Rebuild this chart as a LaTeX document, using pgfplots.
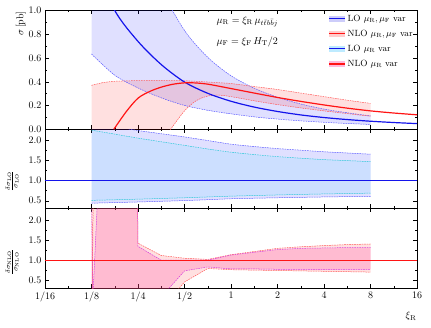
\documentclass[border=0pt]{standalone}
\usepackage{pgfplots}
\pgfplotsset{compat=1.18}
\usepackage{pgfplotstable}
\usepgfplotslibrary{fillbetween}

\definecolor{loline}{RGB}{20,20,235}
\definecolor{loedge}{RGB}{90,90,255}
\definecolor{nloline}{RGB}{255,20,20}
\definecolor{nloedge}{RGB}{255,90,90}
\definecolor{muredge}{RGB}{40,200,215}
\definecolor{murfill}{RGB}{110,215,255}
\definecolor{nmuredge}{RGB}{215,60,220}
\definecolor{nmurfill}{RGB}{255,90,170}
\definecolor{lopatch}{RGB}{205,205,250}
\definecolor{nlopatch}{RGB}{255,205,205}
\definecolor{murpatch}{RGB}{190,235,255}
\definecolor{nmurpatch}{RGB}{255,185,220}

% x coordinate is log2(xi_R)
\pgfplotstableread{
L c
-3 1.44
-2.5 1.00
-2 0.74
-1.5 0.545
-1 0.398
-0.5 0.303
0 0.236
0.5 0.187
1 0.150
1.5 0.121
2 0.099
2.5 0.082
3 0.068
3.5 0.057
4 0.048
}\locen

\pgfplotstableread{
L up lo
-3 3.53 0.634
-2.5 2.35 0.455
-2 1.665 0.348
-1.5 1.183 0.265
-1 0.832 0.201
-0.5 0.606 0.160
0 0.451 0.130
0.5 0.346 0.105
1 0.270 0.086
1.5 0.213 0.071
2 0.170 0.059
2.5 0.139 0.049
3 0.113 0.041
}\loband

\pgfplotstableread{
L c
-2.52 0.0
-2.25 0.15
-2 0.262
-1.75 0.318
-1.5 0.355
-1.25 0.379
-1 0.391
-0.75 0.39
-0.5 0.38
-0.25 0.362
0 0.343
0.5 0.305
1 0.268
1.5 0.235
2 0.205
2.5 0.178
3 0.155
3.5 0.137
4 0.122
}\nlocen

\pgfplotstableread{
L up lo
-3 0.37 -0.5
-2.75 0.393 -0.45
-2.5 0.404 -0.4
-2 0.41 -0.3
-1.5 0.411 -0.1
-1.3 0.41 0.0
-1 0.408 0.155
-0.75 0.404 0.24
-0.5 0.398 0.28
-0.25 0.392 0.287
0 0.385 0.275
0.5 0.36 0.24
1 0.335 0.208
1.5 0.305 0.18
2 0.275 0.155
2.5 0.245 0.132
3 0.218 0.11
}\nloband

\pgfplotstableread{
L bu bl cu cl
-3 2.45 0.44 2.26 0.51
-2.5 2.35 0.455 2.16 0.525
-2 2.25 0.47 2.06 0.54
-1.5 2.17 0.487 1.97 0.557
-1 2.09 0.505 1.88 0.575
-0.5 2.00 0.527 1.79 0.595
0 1.91 0.55 1.71 0.615
0.5 1.85 0.563 1.65 0.63
1 1.80 0.575 1.60 0.645
1.5 1.76 0.585 1.56 0.658
2 1.72 0.595 1.525 0.67
2.5 1.69 0.603 1.50 0.68
3 1.66 0.61 1.475 0.69
}\ratlo

\pgfplotstableread{
L ru rl mu ml
-3 -2 4 -0.7 3
-2.75 29 -28 5.6 -28.5
-2.5 60 -60 60 -60
-2 1.43 -0.3 1.35 -0.1
-1.5 1.12 -0.25 1.0 0.07
-1 1.05 0.45 1.0 0.73
-0.5 1.02 0.79 1.0 0.83
0 1.14 0.76 1.13 0.78
0.5 1.22 0.75 1.20 0.78
1 1.30 0.74 1.27 0.77
1.5 1.34 0.73 1.30 0.77
2 1.37 0.72 1.31 0.76
2.5 1.395 0.71 1.32 0.77
3 1.41 0.70 1.32 0.77
}\ratnlo

\pgfplotsset{
  panel/.style={
    scale only axis, width=372pt,
    xmin=-4, xmax=4, xtick={-4,-3,...,4}, minor x tick num=1,
    minor y tick num=1,
    tick align=inside,
    major tick length=4pt, minor tick length=2pt,
    tick style={black, line width=0.5pt},
    axis line style={line width=0.6pt},
    yticklabel style={/pgf/number format/fixed,
      /pgf/number format/fixed zerofill,
      /pgf/number format/precision=1},
    set layers,
  },
  edge/.style={dash pattern=on 1.6pt off 0.9pt, line width=0.5pt},
  central/.style={line width=1.2pt},
}

\begin{document}
\begin{tikzpicture}

% top panel: cross sections
\begin{axis}[panel, at={(45pt,197.7pt)}, height=118.8pt,
    ymin=0, ymax=1, ytick={0,0.2,0.4,0.6,0.8,1.0},
    xticklabels={},
    legend cell align=left,
    legend style={at={(0.997,0.99)}, anchor=north east, draw=none,
      fill=none, row sep=3.2pt, inner sep=1pt, font=\small},
  ]
  \addplot[edge, loedge, smooth, name path=lu, forget plot] table[x=L,y=up]{\loband};
  \addplot[edge, loedge, smooth, name path=ll, forget plot] table[x=L,y=lo]{\loband};
  \addplot[blue, fill opacity=0.12, forget plot] fill between[of=lu and ll];
  \addplot[edge, nloedge, smooth, name path=nu, forget plot] table[x=L,y=up]{\nloband};
  \addplot[edge, nloedge, smooth, name path=nl, forget plot] table[x=L,y=lo]{\nloband};
  \addplot[red, fill opacity=0.12, forget plot] fill between[of=nu and nl];
  \addplot[central, loline, smooth, forget plot] table[x=L,y=c]{\locen};
  \addplot[central, nloline, smooth, forget plot] table[x=L,y=c]{\nlocen};

  \node[anchor=west] at (rel axis cs:0.452,0.906)
    {$\mu_{\mathrm{R}}=\xi_{\mathrm{R}}\,\mu_{t\bar{t}b\bar{b}j}$};
  \node[anchor=west] at (rel axis cs:0.452,0.737)
    {$\mu_{\mathrm{F}}=\xi_{\mathrm{F}}\,H_{\mathrm{T}}/2$};

  \addlegendimage{legend image code/.code={
    \path[fill=lopatch, draw=none] (0pt,-3.2pt) rectangle (16pt,3.2pt);
    \path[draw=loline, line width=1.2pt] (0pt,0pt) -- (16pt,0pt);}}
  \addlegendentry{LO $\mu_{\mathrm{R}}, \mu_{\mathrm{F}}$ var}
  \addlegendimage{legend image code/.code={
    \path[fill=nlopatch, draw=none] (0pt,-3.2pt) rectangle (16pt,3.2pt);
    \path[draw=nloline, line width=1.2pt] (0pt,0pt) -- (16pt,0pt);}}
  \addlegendentry{NLO $\mu_{\mathrm{R}}, \mu_{\mathrm{F}}$ var}
  \addlegendimage{legend image code/.code={
    \path[fill=murpatch, draw=none] (0pt,-3.2pt) rectangle (16pt,3.2pt);
    \path[draw=loline, line width=1.2pt] (0pt,0pt) -- (16pt,0pt);}}
  \addlegendentry{LO $\mu_{\mathrm{R}}$ var}
  \addlegendimage{legend image code/.code={
    \path[fill=nmurpatch, draw=none] (0pt,-3.2pt) rectangle (16pt,3.2pt);
    \path[draw=nloline, line width=1.2pt] (0pt,0pt) -- (16pt,0pt);}}
  \addlegendentry{NLO $\mu_{\mathrm{R}}$ var}
\end{axis}

% middle panel: LO ratio
\begin{axis}[panel, at={(45pt,119pt)}, height=78.7pt,
    ymin=0.32, ymax=2.28, ytick={0.5,1.0,1.5,2.0},
    xticklabels={},
  ]
  \addplot[edge, loedge, smooth, name path=bu] table[x=L,y=bu]{\ratlo};
  \addplot[edge, loedge, smooth, name path=bl] table[x=L,y=bl]{\ratlo};
  \addplot[blue, fill opacity=0.12] fill between[of=bu and bl];
  \addplot[edge, muredge, smooth, name path=cu] table[x=L,y=cu]{\ratlo};
  \addplot[edge, muredge, smooth, name path=cl] table[x=L,y=cl]{\ratlo};
  \addplot[murfill, fill opacity=0.18] fill between[of=cu and cl];
  \addplot[central, loline] coordinates {(-4,1) (4,1)};
\end{axis}

% bottom panel: NLO ratio
\begin{axis}[panel, at={(45pt,38.7pt)}, height=80.3pt,
    ymin=0.29, ymax=2.32, ytick={0.5,1.0,1.5,2.0},
    xticklabels={$1/16$,$1/8$,$1/4$,$1/2$,$1$,$2$,$4$,$8$,$16$},
  ]
  \addplot[edge, nloedge, name path=ru] table[x=L,y=ru]{\ratnlo};
  \addplot[edge, nloedge, name path=rl] table[x=L,y=rl]{\ratnlo};
  \addplot[red, fill opacity=0.12] fill between[of=ru and rl];
  \addplot[edge, nmuredge, name path=mu] table[x=L,y=mu]{\ratnlo};
  \addplot[edge, nmuredge, name path=ml] table[x=L,y=ml]{\ratnlo};
  \addplot[nmurfill, fill opacity=0.28] fill between[of=mu and ml];
  \addplot[central, nloline] coordinates {(-4,1) (4,1)};
\end{axis}

\node[rotate=90] at (21pt,303.5pt) {$\sigma\,[\mathrm{pb}]$};
\node[rotate=90] at (12pt,146pt) {$\frac{\delta\sigma_{\mathrm{LO}}}{\sigma_{\mathrm{LO}}}$};
\node[rotate=90] at (12pt,65pt) {$\frac{\delta\sigma_{\mathrm{NLO}}}{\sigma_{\mathrm{NLO}}}$};
\node at (411pt,11pt) {$\xi_{\mathrm{R}}$};

\pgfresetboundingbox
\path[use as bounding box] (0pt,0pt) rectangle (431pt,327pt);
\end{tikzpicture}
\end{document}
